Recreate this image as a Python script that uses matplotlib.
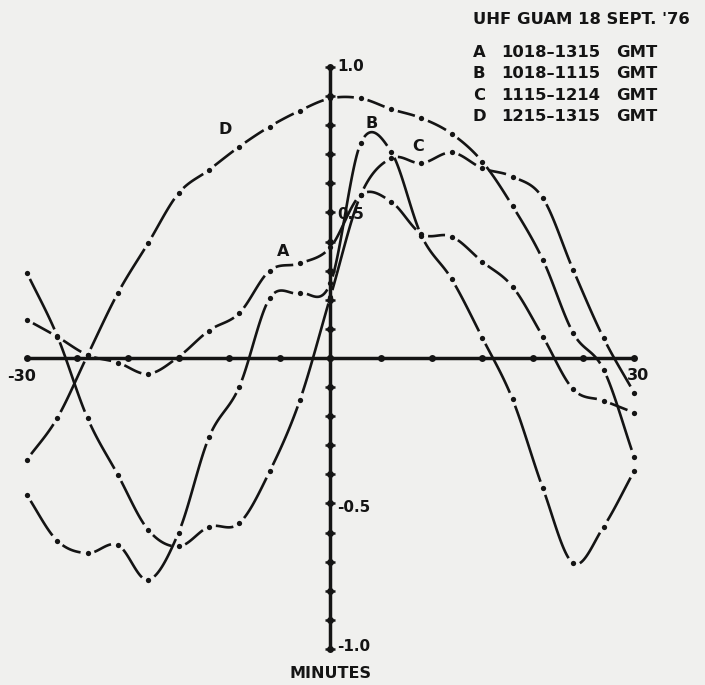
import matplotlib
matplotlib.use("Agg")
import matplotlib.pyplot as plt
import numpy as np

plt.rcParams['font.family'] = ['DejaVu Sans']

# sample times, every 3 minutes
minutes = list(range(-30, 31, 3))

curve_a = [0.131, 0.073, 0.010, -0.016, -0.055, 0.004, 0.094, 0.154, 0.300, 0.325, 0.380,
           0.560, 0.537, 0.426, 0.417, 0.331, 0.245, 0.073, -0.108, -0.147, -0.188]
curve_b = [-0.471, -0.628, -0.671, -0.643, -0.763, -0.600, -0.273, -0.099, 0.205, 0.222, 0.257,
           0.738, 0.709, 0.420, 0.270, 0.070, -0.142, -0.448, -0.706, -0.580, -0.390]
curve_c = [0.293, 0.076, -0.207, -0.402, -0.591, -0.648, -0.580, -0.568, -0.390, -0.144, 0.210,
           0.560, 0.686, 0.669, 0.706, 0.652, 0.623, 0.549, 0.302, 0.068, -0.119]
curve_d = [-0.350, -0.207, 0.009, 0.223, 0.395, 0.566, 0.646, 0.726, 0.795, 0.850, 0.892,
           0.892, 0.855, 0.824, 0.770, 0.675, 0.522, 0.337, 0.085, -0.040, -0.339]

curve_names = ['A', 'B', 'C', 'D']
curve_times = ['1018\u20131315', '1018\u20131115', '1115\u20131214', '1215\u20131315']
# where each letter sits on the chart (minutes, amplitude)
curve_label_pos = [(-4.65, 0.365), (4.1, 0.807), (8.7, 0.726), (-10.4, 0.784)]

ink = '#141414'
paper = '#f0f0ee'

fig = plt.figure(figsize=(7.05, 6.85), dpi=100, facecolor=paper)
ax = fig.add_axes([0, 0, 1, 1])
ax.set_facecolor(paper)
ax.set_xlim(-32.65, 37.02)
ax.set_ylim(-1.124, 1.230)
ax.axis('off')


def hermite_segments(x, y, n=40):
    x = np.asarray(x, float)
    y = np.asarray(y, float)
    m = np.gradient(y, x)
    t = np.linspace(0, 1, n)
    h00 = 2 * t**3 - 3 * t**2 + 1
    h10 = t**3 - 2 * t**2 + t
    h01 = -2 * t**3 + 3 * t**2
    h11 = t**3 - t**2
    segs = []
    for i in range(len(x) - 1):
        h = x[i + 1] - x[i]
        yy = h00 * y[i] + h10 * h * m[i] + h01 * y[i + 1] + h11 * h * m[i + 1]
        xx = x[i] + t * h
        segs.append((xx, yy))
    return segs


def trim(xx, yy, gap):
    pts = ax.transData.transform(np.column_stack([xx, yy]))
    d = np.concatenate([[0], np.cumsum(np.hypot(*np.diff(pts, axis=0).T))])
    if d[-1] <= 2 * gap:
        return None
    s = np.linspace(gap, d[-1] - gap, 40)
    return np.interp(s, d, xx), np.interp(s, d, yy)


def dash_dot_curve(x, y):
    for xx, yy in hermite_segments(x, y):
        part = trim(xx, yy, 7.0)
        if part is not None:
            ax.plot(part[0], part[1], color=ink, lw=1.9, solid_capstyle='butt')
    ax.plot(x, y, 'o', color=ink, ms=3.8, mew=0)


# axes through the origin
ax.plot([-30, 30], [0, 0], color=ink, lw=2.5, solid_capstyle='butt')
ax.plot([0, 0], [-1, 1], color=ink, lw=2.5, solid_capstyle='butt')
x_ticks = np.arange(-30, 31, 5)
y_ticks = np.round(np.arange(-1.0, 1.01, 0.1), 1)
ax.plot(x_ticks, np.zeros_like(x_ticks), 'o', color=ink, ms=5, mew=0)
ax.plot(np.zeros_like(y_ticks), y_ticks, 'o', color=ink, ms=5, mew=0)
ax.plot(np.zeros_like(y_ticks), y_ticks, '_', color=ink, ms=7, mew=1.8)

for ys in [curve_a, curve_b, curve_c, curve_d]:
    dash_dot_curve(minutes, ys)

# tick labels
for val, txt, dy in [(1.0, '1.0', 0), (0.5, '0.5', -2), (-0.5, '-0.5', -4), (-1.0, '-1.0', 2)]:
    ax.annotate(txt, (0, val), xytext=(7, dy), textcoords='offset pixels',
                ha='left', va='center', fontsize=11, fontweight='bold', color=ink)
ax.annotate('-30', (-30, 0), xytext=(-5, -19), textcoords='offset pixels',
            ha='center', va='center', fontsize=11.5, fontweight='bold', color=ink)
ax.annotate('30', (30, 0), xytext=(4, -18), textcoords='offset pixels',
            ha='center', va='center', fontsize=11.5, fontweight='bold', color=ink)
ax.annotate('MINUTES', (0, -1.0), xytext=(0, -25), textcoords='offset pixels',
            ha='center', va='center', fontsize=11.5, fontweight='bold', color=ink)

for name, (lx, ly) in zip(curve_names, curve_label_pos):
    ax.text(lx, ly, name, ha='center', va='center', fontsize=11.5,
            fontweight='bold', color=ink)

# key in the upper right corner
W, H = 705, 685
fig.text(473 / W, 1 - 19.5 / H, "UHF GUAM 18 SEPT. '76", ha='left', va='center',
         fontsize=11.8, fontweight='bold', color=ink)
for i, (name, span) in enumerate(zip(curve_names, curve_times)):
    yy = 1 - (52.7 + 21.2 * i) / H
    fig.text(473 / W, yy, name, ha='left', va='center', fontsize=11.8,
             fontweight='bold', color=ink)
    fig.text(501.5 / W, yy, span, ha='left', va='center', fontsize=11.8,
             fontweight='bold', color=ink)
    fig.text(616.5 / W, yy, 'GMT', ha='left', va='center', fontsize=11.8,
             fontweight='bold', color=ink)

fig.savefig('out.png', dpi=100, facecolor=paper)
